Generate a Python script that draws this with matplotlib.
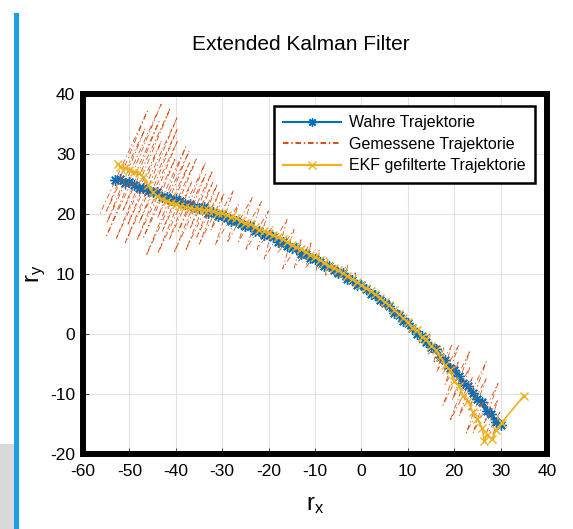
import numpy as np
import matplotlib.pyplot as plt
from matplotlib.patches import Rectangle

plt.rcParams['font.family'] = ['Liberation Sans', 'DejaVu Sans']
plt.rcParams['lines.scale_dashes'] = False
plt.rcParams['axes.unicode_minus'] = False

# --- Daten ---
# wahre Trajektorie
true_x = [30, 29, 28, 27, 26, 25, 24, 23, 22, 21,
          20, 19, 18, 17, 16, 15, 14, 13, 12, 11,
          10, 9, 8, 7, 6, 5, 4, 3, 2, 1,
          0, -1, -2, -3, -4, -5, -6, -7, -8, -9,
          -10, -11, -12, -13, -14, -15, -16, -17, -18, -19,
          -20, -21, -22, -23, -24, -25, -26, -27, -28, -29,
          -30, -31, -32, -33, -34, -35, -36, -37, -38, -39,
          -40, -41, -42, -43, -44, -45, -46, -47, -48, -49,
          -50, -51, -52, -53]
true_y = [-15.2, -14.7, -13.4, -12.9, -11.4, -10.8, -9.9, -8.7, -8.2, -7.0,
          -6.0, -5.6, -4.4, -3.9, -2.5, -2.1, -1.4, -0.4, 0.0, 1.0,
          1.8, 2.2, 3.2, 3.5, 4.7, 5.1, 5.6, 6.5, 6.7, 7.5,
          8.1, 8.2, 9.0, 9.1, 10.1, 10.2, 10.6, 11.3, 11.3, 12.0,
          12.5, 12.6, 13.3, 13.3, 14.3, 14.4, 14.7, 15.4, 15.4, 16.1,
          16.5, 16.5, 17.1, 17.1, 18.0, 18.0, 18.3, 18.9, 18.8, 19.4,
          19.8, 19.7, 20.3, 20.2, 21.1, 21.0, 21.2, 21.7, 21.6, 22.2,
          22.5, 22.4, 22.9, 22.8, 23.7, 23.7, 23.8, 24.4, 24.3, 24.9,
          25.3, 25.2, 25.8, 25.7]

# gemessene Trajektorie
meas_x = [30.25, 28.03, 29.98, 26.54, 29.47, 26.52, 29.45, 24.05, 26.49, 22.56,
          26.96, 23.03, 26.94, 21.05, 23.98, 19.07, 23.47, 19.54, 23.45, 17.56,
          20.98, 18.03, 20.96, 17.52, 19.47, 16.28, 17.74, 15.52, 16.49, 14.27,
          14.74, 12.51, 12.49, 10.76, 10.39, 8.61, 8.49, 6.51, 6.25, 4.71,
          4.29, 2.76, 2.25, 0.76, 0.29, -1.29, -1.27, -3.25, -3.02, -5.49,
          -5.51, -7.74, -7.27, -9.74, -9.02, -11.98, -10.78, -14.47, -13.02, -16.96,
          -14.53, -17.98, -16.04, -20.96, -19.02, -22.47, -20.04, -24.96, -21.55, -26.47,
          -23.55, -28.96, -26.53, -31.45, -27.55, -32.47,
          -29.54, -34.94, -30.54, -35.45, -31.05, -37.92, -32.05, -36.96, -32.07, -40.41,
          -33.56, -39.45, -33.58, -41.43, -36.54, -43.90, -35.58, -42.94, -37.07, -46.39,
          -37.09, -43.96, -37.85, -46.92, -40.07, -48.41, -39.60, -47.94, -39.62, -50.90,
          -39.64, -50.43, -43.09, -52.90, -41.15, -51.45, -43.62, -54.90, -43.15, -54.92,
          -46.60, -54.94, -46.13, -56.43]
meas_y = [-15.0, -17.6, -12.8, -17.5, -10.9, -14.8, -8.25, -16.5, -10.8, -16.5,
          -7.3, -12.9, -4.6, -13.7, -7.2, -14.5, -5.4, -11.0, -2.75, -11.9,
          -4.5, -8.4, -1.9, -6.7, -1.9, -6.2, -2.3, -4.9, -1.9, -3.4,
          0.0, -1.5, 1.1, 0.5, 2.3, 1.7, 4.0, 2.9, 4.8, 4.6,
          6.2, 5.9, 7.3, 7.0, 8.4, 7.9, 10.2, 9.0, 11.5, 9.3,
          11.6, 9.8, 12.8, 10.6, 14.0, 11.1, 15.4, 11.0, 15.7, 10.9,
          17.4, 13.5, 19.1, 12.5, 18.0, 14.1, 20.5, 13.9, 22.05, 15.4,
          22.75, 15.2, 21.6, 14.95, 23.95, 17.3,
          23.5, 14.98, 23.83, 16.15, 25.0, 13.84, 25.25, 17.52, 27.24, 13.47,
          26.62, 17.15, 28.61, 15.71, 25.43, 13.4, 29.16, 17.08, 28.54, 13.03,
          30.53, 19.32, 31.2, 16.14, 29.34, 15.57, 32.25, 18.48, 34.24, 15.2,
          36.23, 18.11, 32.18, 15.8, 37.7, 20.45, 35.39, 16.4, 38.3, 18.44,
          34.25, 20.48, 37.16, 19.91]

# EKF-Schaetzung
ekf_x = [35.0, 30.2, 29.0, 28.2, 27.0, 26.5, 26.0, 25.0,
         24, 23, 22, 21, 20, 19, 18, 17, 16, 15, 14, 13, 12, 11,
         10, 9, 8, 7, 6, 5, 4, 3, 2, 1, 0, -1, -2, -3, -4, -5,
         -6, -7, -8, -9, -10, -11, -12, -13, -14, -15, -16, -17, -18, -19,
         -20, -21, -22, -23, -24, -25, -26, -27, -28, -29, -30, -31, -32, -33,
         -34, -35, -36, -37, -38, -39, -40, -41, -42, -43, -44, -45, -46, -47,
         -48, -49, -50, -51, -52, -52.5]
ekf_y = [-10.3, -14.8, -16.0, -17.5, -16.8, -17.8, -15.6, -14.2,
         -13.0, -11.2, -10.4, -8.6, -7.8, -6.0, -5.1, -3.8, -2.6, -2.0, -0.9, -0.5, 0.6, 1.0,
         2.0, 2.6, 3.4, 4.0, 4.8, 5.3, 6.0, 6.6, 7.1, 7.6, 8.2, 8.6, 9.2, 9.7, 10.1, 10.6,
         11.0, 11.4, 11.9, 12.4, 12.9, 13.2, 13.6, 14.1, 14.5, 14.8, 15.3, 15.8, 16.1, 16.5,
         16.8, 17.2, 17.4, 17.9, 18.3, 18.5, 18.8, 19.3, 19.5, 19.8, 20.1, 20.2, 20.5, 20.6,
         20.6, 20.9, 20.8, 21.0, 21.2, 21.3, 21.6, 21.9, 22.1, 22.5, 23.0, 23.6, 24.8, 26.2,
         26.8, 27.0, 27.4, 27.6, 27.9, 28.4]

C_TRUE = '#0072BD'
C_MEAS = '#D95319'
C_EKF = '#EDB120'

fig = plt.figure(figsize=(5.73, 5.29), dpi=100)

# Folienrand links (blauer Balken + grauer Block)
fig.add_artist(Rectangle((14 / 573, 0), 5 / 573, (529 - 13) / 529,
                         transform=fig.transFigure, color='#1ba1e2', lw=0))
fig.add_artist(Rectangle((0, 0), 14 / 573, 85 / 529,
                         transform=fig.transFigure, color='#d9d9d9', lw=0))

ax = fig.add_axes([83 / 573, 75 / 529, 464 / 573, 360 / 529])

ax.plot(true_x, true_y, '-', color=C_TRUE, lw=3.0, marker=(8, 2, 0),
        ms=7.5, mew=1.0, label='Wahre Trajektorie')
ax.plot(meas_x, meas_y, color=C_MEAS, lw=0.6, linestyle=(0, (4, 2, 1, 2)),
        label='Gemessene Trajektorie')
ax.plot(ekf_x, ekf_y, '-', color=C_EKF, lw=1.2, marker='x', ms=5.5, mew=1.0,
        label='EKF gefilterte Trajektorie')

ax.set_xlim(-60, 40)
ax.set_ylim(-20, 40)
ax.set_xticks(np.arange(-60, 41, 10))
ax.set_yticks(np.arange(-20, 41, 10))
ax.grid(True, color='#e2e2e2', lw=0.8)
ax.set_axisbelow(True)
for sp in ax.spines.values():
    sp.set_linewidth(4.3)
ax.tick_params(direction='in', length=4, width=0.5, labelsize=12.5, pad=5.5)
ax.tick_params(axis='x', pad=7)

ax.set_xlabel(r'$\mathregular{r_x}$', fontsize=17)
ax.set_ylabel(r'$\mathregular{r_y}$', fontsize=17)
ax.xaxis.set_label_coords(0.5, -0.11)
ax.yaxis.set_label_coords(-0.075, 0.5)

fig.text(301 / 573, 1 - 45 / 529, 'Extended Kalman Filter', fontsize=15,
         ha='center', va='center')

leg = ax.legend(loc='upper right', bbox_to_anchor=(0.974, 0.967),
                borderaxespad=0, fontsize=11.5, fancybox=False, framealpha=1,
                edgecolor='black', handlelength=3.6, handletextpad=0.5,
                labelspacing=0.4, borderpad=0.6)
leg.get_frame().set_linewidth(1.8)
for h in leg.get_lines():
    h.set_linewidth(1.5)
    h.set_markersize(6)

fig.savefig('out.png', dpi=100)
